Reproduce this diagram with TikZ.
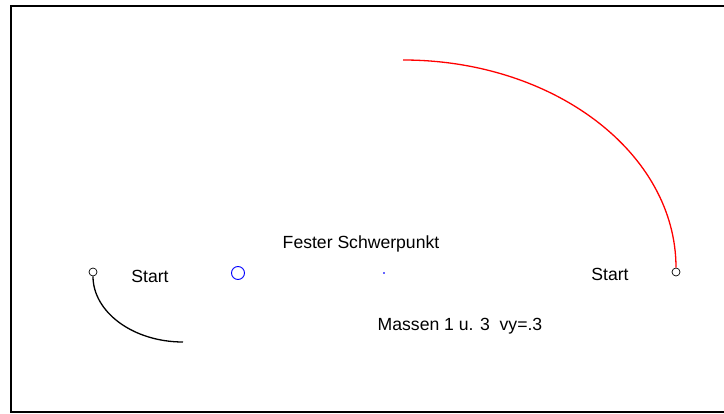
\documentclass[tikz,border=0pt]{standalone}
\usepackage{fontspec}
\setmainfont{Liberation Sans}

\begin{document}
\begin{tikzpicture}[
  x=1pt,
  y=-1pt,
  mass/.style={
    circle,
    draw,
    line width=0.7pt,
    minimum size=8pt,
    inner sep=0pt
  },
  body/.style={
    circle,
    draw=blue,
    line width=0.9pt,
    minimum size=13pt,
    inner sep=0pt
  },
  cog/.style={
    rectangle,
    fill=blue!60,
    minimum size=1.5pt,
    inner sep=0pt
  },
  track/.style={
    line width=1.3pt
  },
  caption/.style={
    inner sep=0pt,
    font=\fontsize{17.6}{19}\selectfont
  }
]

\path[use as bounding box] (0,0) rectangle (724,414);
\draw[line width=2pt] (724,6) -- (11,6) -- (11,412) -- (724,412);

\node[mass] (m1) at (93,272) {};
\node[mass] (m3) at (676,272) {};
\node[body] (m2) at (238,273) {};
\node[cog] (sp) at (384,273) {};
\coordinate (m1end) at (183,342);
\coordinate (m3end) at (403,60);

\node[caption] (start1) at (150,276) {Start};
\node[caption] (start3) at (610,274) {Start};
\node[caption] (title) at (361,244) {Fester Schwerpunkt};
\node[caption] (info) at (460,326) {Massen 1 u. 3\ \ vy=.3};

\draw[track] (m1.south) .. controls (93,312) and (133,342) .. (m1end);
\draw[track, red] (m3.north) .. controls (676,153) and (554,60) .. (m3end);

\end{tikzpicture}
\end{document}
